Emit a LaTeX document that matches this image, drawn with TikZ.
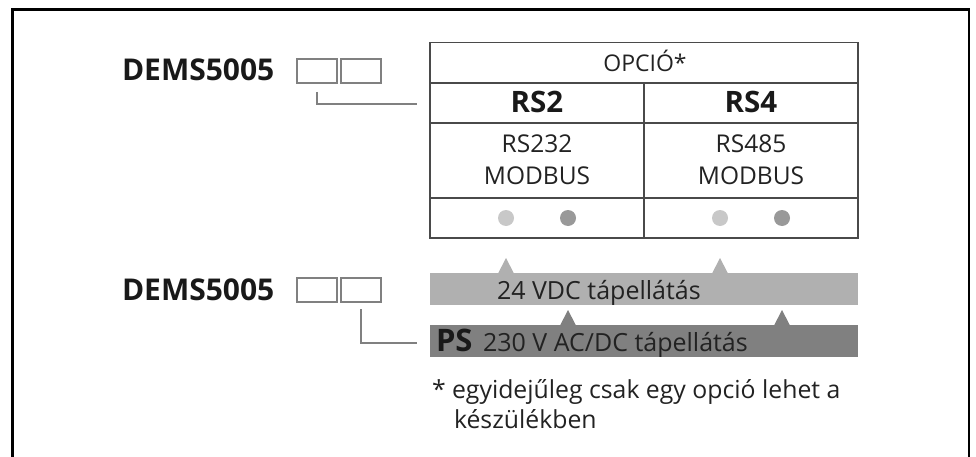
\documentclass[tikz,border=0pt]{standalone}
\usepackage{fontspec}
\setmainfont{Open Sans}
\usetikzlibrary{calc}
\definecolor{lightbar}{HTML}{B0B0B0}
\definecolor{darkbar}{HTML}{808080}
\definecolor{lightdot}{HTML}{C8C8C8}
\definecolor{darkdot}{HTML}{999999}
\definecolor{tableline}{HTML}{4A4A4A}
\definecolor{boxline}{HTML}{808080}
\definecolor{ink}{HTML}{222222}
\tikzset{
  x=1pt,y=-1pt,
  every node/.style={inner sep=0pt,outer sep=0pt,text=ink},
  modelname/.style={anchor=base west,font=\fontsize{30}{30}\selectfont\bfseries,text=black!90},
  codebox/.style={draw=boxline,line width=1.1pt,minimum width=40pt,minimum height=24pt,anchor=north west},
  leader/.style={draw=boxline,line width=1.1pt},
  grid/.style={draw=tableline,line width=1.1pt},
  celltext/.style={anchor=base,font=\fontsize{24.5}{30}\selectfont},
  headtext/.style={anchor=base,font=\fontsize{29.5}{30}\selectfont\bfseries,text=black!90},
  dotlight/.style={circle,fill=lightdot,minimum size=16pt},
  dotdark/.style={circle,fill=darkdot,minimum size=16pt},
  barlight/.style={fill=lightbar,minimum width=428pt,minimum height=32pt,anchor=north west},
  bardark/.style={fill=darkbar,minimum width=428pt,minimum height=32pt,anchor=north west},
  bartext/.style={anchor=base west,font=\fontsize{25}{26}\selectfont},
  note/.style={anchor=base west,font=\fontsize{24.8}{26}\selectfont},
}
\begin{document}
\begin{tikzpicture}
\useasboundingbox (0,0) rectangle (976,457);
% frame, open at the bottom
\draw[black,line width=2.4pt] (12.5,457) -- (12.5,9.5) -- (969,9.5) -- (969,457);
% model rows
\node[modelname] (m1) at (122,81) {DEMS5005};
\node[codebox] (b1) at (297,59) {};
\node[codebox] (b2) at (341,59) {};
\node[modelname] (m2) at (122,300) {DEMS5005};
\node[codebox] (b3) at (297,278) {};
\node[codebox] (b4) at (341,278) {};
% table
\node[grid,minimum width=428pt,minimum height=40.5pt,anchor=north west] (opt) at (430,42.5) {};
\node[grid,minimum width=214pt,minimum height=40pt,anchor=north west] (h1) at (430,83) {};
\node[grid,minimum width=214pt,minimum height=40pt,anchor=north west] (h2) at (644,83) {};
\node[grid,minimum width=214pt,minimum height=75pt,anchor=north west] (c1) at (430,123) {};
\node[grid,minimum width=214pt,minimum height=75pt,anchor=north west] (c2) at (644,123) {};
\node[grid,minimum width=214pt,minimum height=40pt,anchor=north west] (d1) at (430,198) {};
\node[grid,minimum width=214pt,minimum height=40pt,anchor=north west] (d2) at (644,198) {};
\node[celltext,font=\fontsize{23}{30}\selectfont] (optt) at (645,72) {OPCIÓ*};
\node[headtext] (rs2) at (537,113) {RS2};
\node[headtext] (rs4) at (751,113) {RS4};
\node[celltext] (t1a) at (537,153) {RS232};
\node[celltext] (t1b) at (537,184) {MODBUS};
\node[celltext] (t2a) at (751,153) {RS485};
\node[celltext] (t2b) at (751,184) {MODBUS};
\node[dotlight] (d1a) at (506,218) {};
\node[dotdark] (d1b) at (568,218) {};
\node[dotlight] (d2a) at (720,218) {};
\node[dotdark] (d2b) at (782,218) {};
% bars
\node[barlight] (bar1) at (430,273) {};
\node[bardark] (bar2) at (430,325) {};
\fill[lightbar] (498,273.5) -- (506,258) -- (514,273.5) -- cycle;
\fill[lightbar] (712,273.5) -- (720,258) -- (728,273.5) -- cycle;
\fill[darkbar] (560,325.5) -- (568,310) -- (576,325.5) -- cycle;
\fill[darkbar] (774,325.5) -- (782,310) -- (790,325.5) -- cycle;
\node[bartext] (v24) at (497,299) {24 VDC tápellátás};
\node[bartext,font=\fontsize{31}{31}\selectfont\bfseries,text=black!90] (ps) at (436,351) {PS};
\node[bartext,font=\fontsize{25}{26}\selectfont] (v230) at (483,351) {230 V AC/DC tápellátás};
% leaders
\coordinate (l1s) at (317,92);
\coordinate (l1e) at (417,104);
\coordinate (l2s) at (361,309);
\coordinate (l2e) at (417,343);
\draw[leader] (l1s) |- (l1e);
\draw[leader] (l2s) |- (l2e);
% note
\node[note] (star) at (432,398) {*};
\node[note] (n1) at (452,398) {egyidejűleg csak egy opció lehet a};
\node[note] (n2) at (454,428) {készülékben};
\end{tikzpicture}
\end{document}
